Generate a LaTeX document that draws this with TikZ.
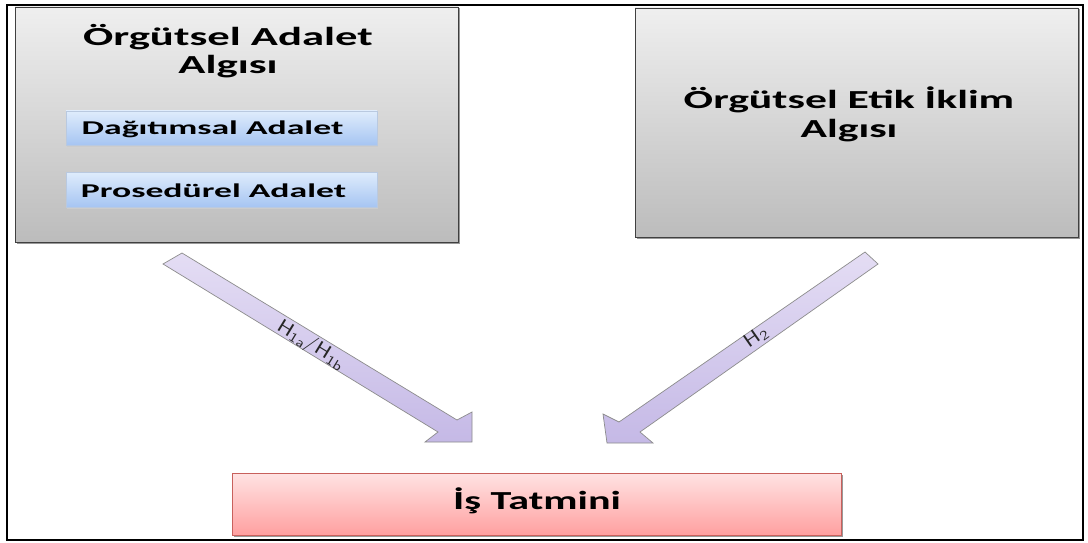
\documentclass[tikz,border=0pt]{standalone}
\usepackage{fontspec}
\usepackage{graphicx}
\newfontfamily\calfont{Carlito}
\usetikzlibrary{calc}
\definecolor{graytop}{HTML}{EFEFEF}
\definecolor{graybot}{HTML}{BCBCBC}
\definecolor{bluetop}{HTML}{DFECFC}
\definecolor{bluebot}{HTML}{A6C5F2}
\definecolor{blueline}{HTML}{B9C9E0}
\definecolor{pinktop}{HTML}{FFE3E3}
\definecolor{pinkbot}{HTML}{FFA0A0}
\definecolor{pinkline}{HTML}{C8605C}
\definecolor{lavtop}{HTML}{E4DDF4}
\definecolor{lavbot}{HTML}{C5B9E6}
\newcommand\wtxt[3]{\scalebox{#1}[1]{\fontsize{#2}{#2}\selectfont\calfont\bfseries #3}}
\begin{document}
\begin{tikzpicture}[x=1pt,y=-1pt,
  shad/.style={preaction={fill=black!40, transform canvas={shift={(1.5pt,-1.5pt)}}}},
  graybox/.style={shad, draw=black!75, line width=0.8pt, top color=graytop, bottom color=graybot, inner sep=0pt},
  bluebox/.style={draw=blueline, line width=0.6pt, top color=bluetop, bottom color=bluebot, inner sep=0pt,
     preaction={fill=black!20, transform canvas={shift={(1pt,-1.5pt)}}}},
  pinkbox/.style={shad, draw=pinkline, line width=0.8pt, top color=pinktop, bottom color=pinkbot, inner sep=0pt},
  fatarrow/.style={draw=black!45, line width=0.7pt, top color=lavtop, bottom color=lavbot, line join=miter},
  txt/.style={anchor=base, inner sep=0pt},
  lab/.style={inner sep=0pt, font=\sffamily\fontsize{19}{19}\selectfont, text=black!85}]
\useasboundingbox (0,0) rectangle (1088,543);
\fill[white] (0,0) rectangle (1088,543);
\node[draw=black, line width=2.5pt, minimum width=1076pt, minimum height=535pt, inner sep=0pt] (frame) at (545,272.5) {};

% top boxes
\node[graybox, minimum width=443pt, minimum height=235pt] (lbox) at (236.5,124.5) {};
\node[graybox, minimum width=443pt, minimum height=229pt] (rbox) at (856.5,122.5) {};
\node[txt] (lt1) at (228,45.5) {\wtxt{1.72}{26}{Örgütsel Adalet}};
\node[txt] (lt2) at (228,74) {\wtxt{1.72}{26}{Algısı}};
\node[txt] (rt1) at (849,109) {\wtxt{1.68}{26}{Örgütsel Etik İklim}};
\node[txt] (rt2) at (849,138) {\wtxt{1.68}{26}{Algısı}};

% sub boxes
\node[bluebox, minimum width=311pt, minimum height=34pt] (dag) at (221.5,128) {};
\node[bluebox, minimum width=311pt, minimum height=35pt] (pro) at (221.5,189.5) {};
\node[txt] (dagt) at (212.5,135) {\wtxt{1.83}{19.5}{Dağıtımsal Adalet}};
\node[txt] (prot) at (213.5,197) {\wtxt{1.83}{19.5}{Prosedürel Adalet}};

% bottom box
\node[pinkbox, minimum width=609pt, minimum height=62pt] (is) at (536.5,504) {};
\node[txt] (ist) at (537,509) {\wtxt{1.62}{26}{İş Tatmini}};

% left arrow
\coordinate (a1) at (182,253);
\coordinate (a2) at (457,420);
\coordinate (a3) at (472,412);
\coordinate (a4) at (472,442);
\coordinate (a5) at (425,442);
\coordinate (a6) at (438,432);
\coordinate (a7) at (163,264);
\draw[fatarrow] (a1) -- (a2) -- (a3) -- (a4) -- (a5) -- (a6) -- (a7) -- cycle;
\node[lab, rotate=-31.5] (l1) at (311,345) {\scalebox{1.25}[1]{H\textsubscript{1a}/H\textsubscript{1b}}};

% right arrow
\coordinate (b1) at (865,252);
\coordinate (b2) at (619,422);
\coordinate (b3) at (603,414);
\coordinate (b4) at (607,443);
\coordinate (b5) at (653,443);
\coordinate (b6) at (640,432);
\coordinate (b7) at (878,264);
\draw[fatarrow] (b1) -- (b2) -- (b3) -- (b4) -- (b5) -- (b6) -- (b7) -- cycle;
\node[lab, rotate=35] (l2) at (756,337) {\scalebox{1.25}[1]{H\textsubscript{2}}};
\end{tikzpicture}
\end{document}
